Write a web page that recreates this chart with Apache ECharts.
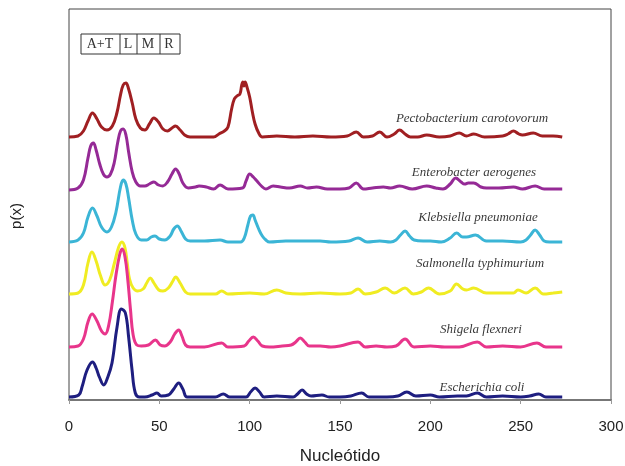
<!DOCTYPE html>
<html>
<head>
<meta charset="utf-8">
<script src="https://cdn.jsdelivr.net/npm/echarts@6/dist/echarts.min.js"></script>
<style>
  html, body { margin: 0; padding: 0; background: #fff; }
  #chart { width: 625px; height: 466px; }
</style>
</head>
<body>
<div id="chart"></div>
<script>
// x ticks
const xTicks = [0, 50, 100, 150, 200, 250, 300]

// curve names (top to bottom) and their baseline offsets
const names = ['Pectobacterium carotovorum', 'Enterobacter aerogenes', 'Klebsiella pneumoniae',
  'Salmonella typhimurium', 'Shigela flexneri', 'Escherichia coli']
const baselines = [263, 210, 158, 106, 53, 3]
const colors = ['#a01f22', '#952a96', '#3bb5d6', '#f0ec22', '#e8358b', '#1e1e80']

// [nucleotide, p(x) above baseline]
const pecto = [[0,0],[5,1],[8,6],[10.5,16],[13,24],[15.5,18],[18,10],[21,7],[24,11],[26.5,24],[28.5,42],[30,52],[31.5,54],[33,48],[35,34],[37,18],[39.5,9],[42,7],[44.5,13],[47,19],[49.5,15],[52,8],[54.5,6],[57,9],[59,11],[61.5,7],[64,2],[67,0],
  [80,0],[83,3],[86,6],[88,10],[90,28],[91.5,38],[93,41],[94.6,43],[95.6,52],[96.2,55],[96.8,51],[97.5,55],[98.5,50],[100,40],[101.5,25],[103,13],[105,4],[107,0],
  [115,1],[125,0],[135,1],[145,0],[154,1],[159,5],[163,0],[168,1],[172,5],[176,0],[180,3],[183,7],[186,3],[189,0],[193,0],[198,2],[205,0],[211,1],[216,4],[220,1],[224,3],[230,0],[240,1],[243,3],[246,6],[249,3],[251,2],[257,4],[262,1],[268,1],[273,0]]
const entero = [[0,0],[5,2],[8,10],[10.5,32],[12,44],[13.5,47],[15,40],[17,26],[19,16],[21,13],[23,16],[25,27],[27,48],[28.5,59],[30,61],[31.5,55],[33,38],[35,18],[37,8],[39.5,4],[42,4],[44.5,6],[47,8],[49.5,5],[52,4],[54.5,8],[57,16],[59,21],[61,16],[63,7],[66,2],[70,3],
  [72,4],[76,3],[80,1],[83.6,5],[88,1],[96,2],[98,9],[100,16],[102,13],[104,9],[106.5,4],[109,1],[113,4],[117,3],[122,2],[128,4],[132,2],[137,3],[143,1],[150,1],[155,2],[159,7],[163,1],[168,2],[174,3],[178,2],[183,4],[190,1],[198,4],[203,2],[207,1],[211,6],[214,12],[217,8],[219,6],[221,7],[224,7],[228,3],[231,2],[238,2],[246,3],[251,1],[258,4],[263,1],[268,1],[273,1]]
const klebs = [[0,0],[5,2],[8,9],[10.5,25],[13,34],[15.5,26],[18,15],[21,10],[23.5,15],[26,30],[28.5,55],[30,62],[31.5,58],[33,44],[35,22],[37,8],[40,2],[43,2],[45.5,5],[47.6,6],[50,3],[53,2],[56,6],[58,13],[60,16],[62,11],[64.5,3],[67,1],
  [75,1],[83.6,2],[88,0],[95,0],[97,4],[99,17],[100.5,26],[101.8,27],[103,22],[105,13],[107,6],[109,2],[111,0],[120,1],[128,1],[139,1],[145,0],[155,1],[160,4],[165,0],[172,1],[178,0],[181,2],[183.5,7],[186,11],[188.5,6],[191,2],[196,1],[200,1],[206,0],[211,4],[214.5,9],[218,5],[220,5],[225,7],[231,1],[240,1],[250,0],[253,2],[255.5,7],[258,12],[260.5,7],[263,1],[266,0],[273,0]]
const salmo = [[0,0],[5,1],[8,9],[10.5,31],[12.7,42],[15,33],[17.5,18],[20,9],[22.5,14],[25,30],[27.5,47],[29.3,52],[31,46],[32.3,30],[33.5,15],[35.5,6],[38,3],[41,5],[43,11],[45,16],[47,11],[49.7,4],[52,3],[55,6],[57.5,13],[59,17],[61.5,11],[64.5,2],[67,0],
  [75,0],[81,0],[84.5,3],[88,0],[100,1],[108,0],[115,4],[120,1],[128,0],[139,1],[150,0],[156,1],[160,5],[164,0],[170,2],[175,6],[180,1],[186,6],[190.6,0],[195,2],[199,6],[205,0],[211,3],[214.5,10],[218,5],[220,4],[224,6],[231,1],[240,1],[246,1],[248.5,4],[253,1],[258,6],[262.6,0],[268,1],[273,2]]
const shige = [[0,0],[5,1],[8,8],[10.5,25],[12.8,33],[15.5,26],[18,16],[20,13],[22,22],[24,45],[26,72],[28,92],[29.4,98],[31,90],[32.5,68],[34,38],[35.5,12],[37.5,2],[40,1],[44,2],[47.8,7],[50.5,2],[53,1],[56,5],[58.5,13],[60.7,17],[62.5,11],[64.5,2],[67,0],
  [75,0],[84.5,4],[88,0],[97,1],[99.5,6],[102,10],[104.5,6],[107,1],[111,0],[118,1],[123,2],[125.5,5],[128,9],[130.5,5],[133,1],[139,1],[145,0],[150,1],[160,5],[164,0],[170,1],[176,0],[181,1],[186,8],[191,0],[200,1],[208,0],[216,0],[226,5],[231,0],[240,1],[250,0],[259,4],[264,0],[273,0]]
const ecoli = [[0,0],[5.4,2],[7.2,10],[10,27],[13,35],[15,29],[16.8,20],[19.2,12],[21.5,20],[23.8,34],[26.6,70],[29,88],[31.2,84],[33,60],[34.9,27],[36.7,4],[39,0],[42,0],[46,2],[48.7,4],[51,1],[55,2],[58,8],[60.7,14],[63,8],[65.4,0],
  [75,0],[81,0],[85.4,3],[89,0],[98,0],[100.5,5],[103,9],[105.5,5],[108,0],[115,1],[124,0],[126.5,3],[129,7],[131.5,3],[134,1],[140,2],[144,0],[150,0],[156,1],[162,4],[166,0],[176,0],[182,1],[187,5],[192,1],[200,2],[205,0],[215,1],[220,1],[226,4],[231,0],[240,1],[250,0],[255,1],[260,3],[264,0],[273,0]]

const curves = [pecto, entero, klebs, salmo, shige, ecoli]
// label positions (center x, y) in pixels
const labelPos = [[472, 119], [474, 173], [478, 218], [480, 264], [481, 330], [482, 388]]

const chart = echarts.init(document.getElementById('chart'))

const series = curves.map((c, i) => ({
  name: names[i],
  type: 'line',
  smooth: 0.4,
  symbol: 'none',
  z: 2 + i,
  lineStyle: { color: colors[i], width: 3 },
  data: c.map(p => [p[0], baselines[i] + p[1]])
}))

const legendBox = [
  { type: 'rect', shape: { x: 81, y: 34, width: 99, height: 20 }, style: { fill: '#fff', stroke: '#333', lineWidth: 1 } },
  { type: 'line', shape: { x1: 120, y1: 34, x2: 120, y2: 54 }, style: { stroke: '#333', lineWidth: 1 } },
  { type: 'line', shape: { x1: 137, y1: 34, x2: 137, y2: 54 }, style: { stroke: '#333', lineWidth: 1 } },
  { type: 'line', shape: { x1: 160, y1: 34, x2: 160, y2: 54 }, style: { stroke: '#333', lineWidth: 1 } }
]
const boxText = [['A+T', 100], ['L', 128], ['M', 148], ['R', 169]].map(t => ({
  type: 'text', x: t[1], y: 44,
  style: { text: t[0], font: '14px "Liberation Serif"', fill: '#333', align: 'center', verticalAlign: 'middle' }
}))
const curveLabels = names.map((n, i) => ({
  type: 'text', x: labelPos[i][0], y: labelPos[i][1], z: 20,
  style: { text: n, font: 'italic 13px "Liberation Serif"', fill: '#3a3a3a', align: 'center', verticalAlign: 'middle' }
}))

chart.setOption({
  animation: false,
  backgroundColor: '#fff',
  grid: {
    left: 69, right: 14, top: 9, bottom: 66,
    outerBoundsMode: 'none',
    show: true, borderColor: '#444', borderWidth: 1
  },
  xAxis: {
    type: 'value',
    min: xTicks[0],
    max: xTicks[xTicks.length - 1],
    interval: 50,
    name: 'Nucleótido',
    nameLocation: 'middle',
    nameGap: 48,
    nameTextStyle: { fontFamily: 'Liberation Sans', fontSize: 17, color: '#222' },
    axisLine: { show: true, lineStyle: { color: '#777', width: 2 } },
    axisTick: { show: true, length: 4, lineStyle: { color: '#999' } },
    axisLabel: { fontFamily: 'Liberation Sans', fontSize: 15, color: '#222', margin: 19 },
    splitLine: { show: false }
  },
  yAxis: {
    type: 'value',
    min: 0,
    max: 391,
    axisLine: { show: false },
    axisTick: { show: false },
    axisLabel: { show: false },
    splitLine: { show: false }
  },
  series: series,
  graphic: [
    ...legendBox,
    ...boxText,
    ...curveLabels,
    {
      type: 'text', x: 17, y: 216, rotation: Math.PI / 2,
      style: { text: 'p(x)', font: '15px "Liberation Sans"', fill: '#222', align: 'center', verticalAlign: 'middle' }
    }
  ]
})
</script>
</body>
</html>
